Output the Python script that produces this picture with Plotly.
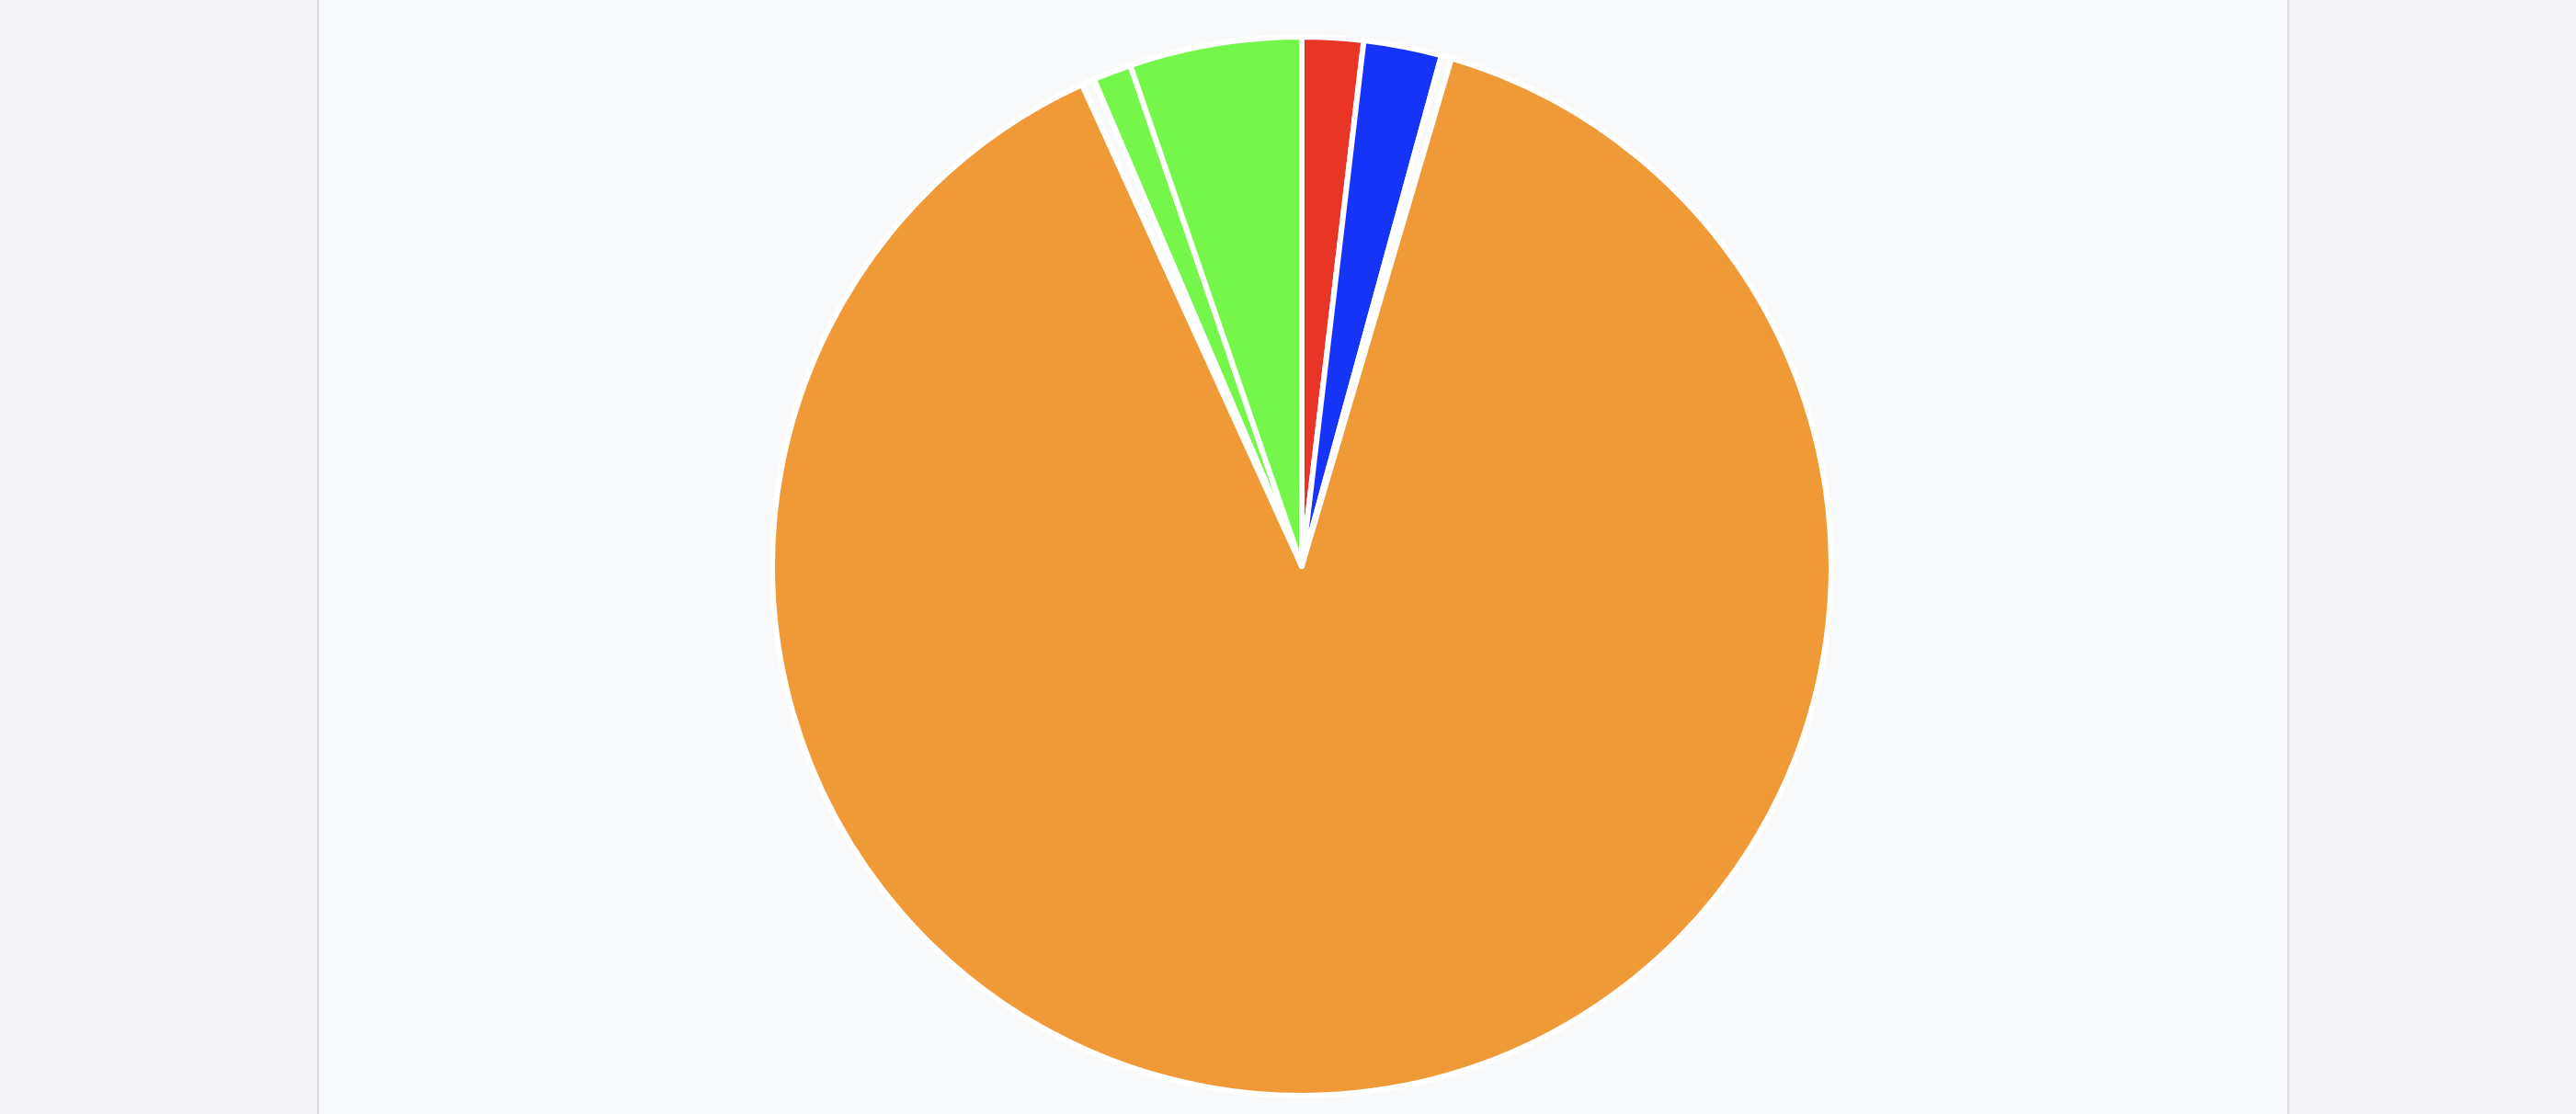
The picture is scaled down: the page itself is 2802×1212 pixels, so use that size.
import plotly.graph_objects as go

W, H = 2802, 1212

labels = ["Red", "Blue", "gap-1", "Orange", "gap-2", "Light green", "Green"]
values = [1.87, 2.38, 0.31, 88.64, 0.39, 1.17, 5.25]
colors = ["#e83526", "#1534f8", "rgba(0,0,0,0)", "#f09937", "rgba(0,0,0,0)", "#75f64a", "#75f64a"]

cx, cy, r = 1416, 616, 576

fig = go.Figure(go.Pie(
    labels=labels,
    values=values,
    sort=False,
    direction="clockwise",
    rotation=0,
    marker=dict(colors=colors, line=dict(color="#ffffff", width=6)),
    textinfo="none",
    hoverinfo="label+percent",
    showlegend=False,
    domain=dict(x=[(cx - r) / W, (cx + r) / W], y=[(H - cy - r) / H, (H - cy + r) / H]),
))

fig.update_layout(
    width=W, height=H,
    margin=dict(l=0, r=0, t=0, b=0),
    paper_bgcolor="#f4f4f6",
    plot_bgcolor="#f4f4f6",
    shapes=[
        dict(type="rect", xref="paper", yref="paper", x0=346 / W, x1=2489 / W, y0=0, y1=1,
             fillcolor="#f8f9fb", line=dict(width=0), layer="below"),
        dict(type="line", xref="paper", yref="paper", x0=346 / W, x1=346 / W, y0=0, y1=1,
             line=dict(color="#dcdce0", width=2), layer="below"),
        dict(type="line", xref="paper", yref="paper", x0=2489 / W, x1=2489 / W, y0=0, y1=1,
             line=dict(color="#dcdce0", width=2), layer="below"),
    ],
)

fig.write_html("out.html", config={"displayModeBar": False},
               post_script="document.body.style.margin='0';")
